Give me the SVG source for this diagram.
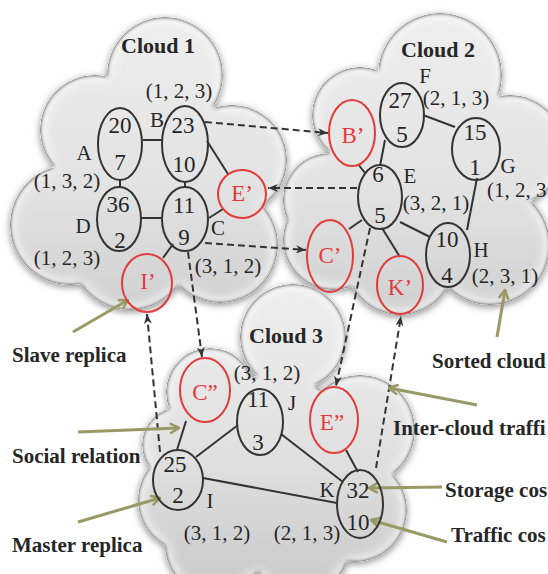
<svg xmlns="http://www.w3.org/2000/svg" width="548" height="574" viewBox="0 0 548 574">
<defs>
<filter id="cf" x="-15%" y="-15%" width="130%" height="130%">
<feGaussianBlur in="SourceAlpha" stdDeviation="7" result="bw"/>
<feComposite in="SourceAlpha" in2="bw" operator="arithmetic" k2="1.6" k3="-1.6" result="ew"/>
<feFlood flood-color="#ffffff"/>
<feComposite in2="ew" operator="in" result="white"/>
<feGaussianBlur in="SourceAlpha" stdDeviation="2" result="bn"/>
<feComposite in="SourceAlpha" in2="bn" operator="arithmetic" k2="2" k3="-2" result="en"/>
<feFlood flood-color="#6e6e6e"/>
<feComposite in2="en" operator="in" result="dark"/>
<feGaussianBlur in="SourceAlpha" stdDeviation="3.5" result="bo"/>
<feOffset in="bo" dy="2" result="bo2"/>
<feFlood flood-color="#8c8c8c"/>
<feComposite in2="bo2" operator="in" result="glow0"/>
<feComposite in="glow0" in2="SourceAlpha" operator="out" result="glow"/>
<feMerge><feMergeNode in="glow"/><feMergeNode in="SourceGraphic"/><feMergeNode in="white"/><feMergeNode in="dark"/></feMerge>
</filter>
<linearGradient id="g1" gradientUnits="userSpaceOnUse" x1="0" y1="15" x2="0" y2="310">
<stop offset="0" stop-color="#eeeeee"/><stop offset="0.6" stop-color="#e2e2e2"/><stop offset="1" stop-color="#d0d0d0"/>
</linearGradient>
<linearGradient id="g2" gradientUnits="userSpaceOnUse" x1="0" y1="15" x2="0" y2="315">
<stop offset="0" stop-color="#eeeeee"/><stop offset="0.6" stop-color="#e2e2e2"/><stop offset="1" stop-color="#d0d0d0"/>
</linearGradient>
<linearGradient id="g3" gradientUnits="userSpaceOnUse" x1="0" y1="285" x2="0" y2="574">
<stop offset="0" stop-color="#eeeeee"/><stop offset="0.6" stop-color="#e0e0e0"/><stop offset="1" stop-color="#cccccc"/>
</linearGradient>
<marker id="ah" viewBox="0 0 10 8" refX="10" refY="4" markerWidth="10" markerHeight="8" orient="auto" markerUnits="userSpaceOnUse">
<path d="M0,0 L10,4 L0,8 L3,4 z" fill="#333"/>
</marker>
<marker id="oh" viewBox="0 0 12 12" refX="11" refY="6" markerWidth="12" markerHeight="12" orient="auto" markerUnits="userSpaceOnUse">
<path d="M2,1 L11,6 L2,11" fill="none" stroke="#999966" stroke-width="2.5"/>
</marker>
</defs>
<style>
.t{font-family:"Liberation Serif","Times New Roman",serif;font-size:21px;fill:#262626;text-anchor:middle}
.n{font-size:23px}
.r{fill:#e23b3b;font-size:23px}
.b{font-family:"Liberation Serif","Times New Roman",serif;font-size:21px;font-weight:bold;fill:#262626}
.bc{font-size:22px;text-anchor:middle}
.nd{fill:none;stroke:#333;stroke-width:2}
.rd{fill:none;stroke:#e23b3b;stroke-width:2}
.e{stroke:#333;stroke-width:2;fill:none}
.d{stroke:#333;stroke-width:2;stroke-dasharray:7 4;fill:none;marker-end:url(#ah)}
.o{stroke:#999966;stroke-width:3;fill:none;marker-end:url(#oh)}
</style>
<rect width="548" height="574" fill="#ffffff"/>

<g id="cloud1" filter="url(#cf)" fill="url(#g1)">
<circle cx="165" cy="75" r="58"/>
<circle cx="95" cy="130" r="55"/>
<circle cx="70" cy="225" r="60"/>
<circle cx="130" cy="250" r="60"/>
<circle cx="220" cy="245" r="58"/>
<circle cx="232" cy="160" r="55"/>
<circle cx="160" cy="175" r="85"/>
</g>
<g id="cloud2" filter="url(#cf)" fill="url(#g2)">
<circle cx="440" cy="75" r="62"/>
<circle cx="360" cy="115" r="48"/>
<circle cx="510" cy="150" r="55"/>
<circle cx="330" cy="200" r="47"/>
<circle cx="333" cy="240" r="50"/>
<circle cx="400" cy="260" r="55"/>
<circle cx="490" cy="245" r="60"/>
<circle cx="430" cy="175" r="90"/>
</g>
<g id="cloud3" filter="url(#cf)" fill="url(#g3)">
<circle cx="210" cy="392" r="44"/>
<circle cx="293" cy="337" r="53"/>
<circle cx="360" cy="430" r="55"/>
<circle cx="355" cy="510" r="52"/>
<circle cx="190" cy="500" r="52"/>
<circle cx="180" cy="445" r="38"/>
<circle cx="272" cy="465" r="90"/>
<circle cx="215" cy="545" r="50"/>
<circle cx="300" cy="545" r="50"/>
</g>

<g id="cloud-labels">
<text class="b bc" x="158" y="53">Cloud 1</text>
<text class="b bc" x="438" y="57">Cloud 2</text>
<text class="b bc" x="286" y="343">Cloud 3</text>
</g>

<g id="connectors">
<line class="e" x1="143" y1="140" x2="162" y2="140"/>
<line class="e" x1="120" y1="180" x2="120" y2="187"/>
<line class="e" x1="141" y1="218" x2="162" y2="218"/>
<line class="e" x1="185" y1="182" x2="185" y2="187"/>
<line class="e" x1="207" y1="141" x2="228" y2="174"/>
<line class="e" x1="209" y1="218" x2="223" y2="209"/>
<line class="e" x1="173" y1="244" x2="163" y2="258"/>
<line class="e" x1="423" y1="115" x2="455" y2="127"/>
<line class="e" x1="385" y1="140" x2="380" y2="166"/>
<line class="e" x1="358" y1="164" x2="365" y2="173"/>
<line class="e" x1="477" y1="178" x2="467" y2="230"/>
<line class="e" x1="400" y1="222" x2="430" y2="237"/>
<line class="e" x1="362" y1="220" x2="349" y2="229"/>
<line class="e" x1="382" y1="228" x2="400" y2="257"/>
<line class="e" x1="177" y1="450" x2="186" y2="421"/>
<line class="e" x1="196" y1="457" x2="238" y2="425"/>
<line class="e" x1="203" y1="478" x2="337" y2="503"/>
<line class="e" x1="281" y1="434" x2="343" y2="482"/>
<line class="e" x1="346" y1="450" x2="358" y2="472"/>
<line class="d" x1="205" y1="122" x2="328" y2="133"/>
<line class="d" x1="357" y1="188" x2="268" y2="188"/>
<line class="d" x1="205" y1="243" x2="306" y2="250"/>
<line class="d" x1="188" y1="252" x2="202" y2="357"/>
<line class="d" x1="160" y1="452" x2="147" y2="314"/>
<line class="d" x1="370" y1="228" x2="336" y2="386"/>
<line class="d" x1="376" y1="468" x2="401" y2="316"/>
<line class="o" x1="73" y1="332" x2="128" y2="300"/>
<line class="o" x1="78" y1="432" x2="179" y2="428"/>
<line class="o" x1="78" y1="522" x2="160" y2="498"/>
<line class="o" x1="497" y1="337" x2="505" y2="290"/>
<line class="o" x1="477" y1="405" x2="389" y2="388"/>
<line class="o" x1="442" y1="487" x2="369" y2="488"/>
<line class="o" x1="447" y1="542" x2="371" y2="520"/>
</g>

<g id="node-A"><ellipse class="nd" cx="120" cy="144" rx="22" ry="36"/><text class="t n" x="120" y="133">20</text><text class="t n" x="120" y="170">7</text><text class="t" x="84" y="160">A</text><text class="t" x="67" y="188">(1, 3, 2)</text></g>
<g id="node-D"><ellipse class="nd" cx="119" cy="219" rx="22" ry="32"/><text class="t n" x="118" y="212">36</text><text class="t n" x="120" y="248">2</text><text class="t" x="83" y="233">D</text><text class="t" x="67" y="265">(1, 2, 3)</text></g>
<g id="node-B"><ellipse class="nd" cx="185" cy="144" rx="23" ry="38"/><text class="t n" x="183" y="133">23</text><text class="t n" x="184" y="172">10</text><text class="t" x="157" y="127">B</text><text class="t" x="179" y="98">(1, 2, 3)</text></g>
<g id="node-C"><ellipse class="nd" cx="185" cy="219" rx="23" ry="32"/><text class="t n" x="184" y="213">11</text><text class="t n" x="184" y="245">9</text><text class="t" x="218" y="235">C</text><text class="t" x="228" y="273">(3, 1, 2)</text></g>
<g id="node-E1"><ellipse class="rd" cx="242" cy="194" rx="24" ry="24"/><text class="t r" x="242" y="201">E’</text></g>
<g id="node-I1"><ellipse class="rd" cx="147" cy="283" rx="25" ry="29"/><text class="t r" x="148" y="289">I’</text></g>

<g id="node-F"><ellipse class="nd" cx="402" cy="115" rx="22" ry="32"/><text class="t n" x="400" y="108">27</text><text class="t n" x="402" y="142">5</text><text class="t" x="425" y="83">F</text><text class="t" x="456" y="105">(2, 1, 3)</text></g>
<g id="node-G"><ellipse class="nd" cx="476" cy="149" rx="24" ry="31"/><text class="t n" x="475" y="140">15</text><text class="t n" x="475" y="175">1</text><text class="t" x="508" y="173">G</text><text class="t" x="487" y="197" style="text-anchor:start">(1, 2, 3</text></g>
<g id="node-E"><ellipse class="nd" cx="380" cy="197" rx="22" ry="32"/><text class="t n" x="378" y="182">6</text><text class="t n" x="380" y="223">5</text><text class="t" x="410" y="183">E</text><text class="t" x="436" y="210">(3, 2, 1)</text></g>
<g id="node-H"><ellipse class="nd" cx="448" cy="255" rx="22" ry="32"/><text class="t n" x="447" y="247">10</text><text class="t n" x="447" y="283">4</text><text class="t" x="481" y="257">H</text><text class="t" x="505" y="283">(2, 3, 1)</text></g>
<g id="node-B2"><ellipse class="rd" cx="352" cy="133" rx="23" ry="33"/><text class="t r" x="353" y="143">B’</text></g>
<g id="node-C2"><ellipse class="rd" cx="330" cy="256" rx="23" ry="36"/><text class="t r" x="330" y="263">C’</text></g>
<g id="node-K2"><ellipse class="rd" cx="400" cy="285" rx="23" ry="29"/><text class="t r" x="400" y="295">K’</text></g>

<g id="node-C3"><ellipse class="rd" cx="205" cy="390" rx="25" ry="32"/><text class="t r" x="205" y="400">C”</text></g>
<g id="node-J"><ellipse class="nd" cx="260" cy="422" rx="23" ry="33"/><text class="t n" x="258" y="407">11</text><text class="t n" x="258" y="450">3</text><text class="t" x="292" y="410">J</text><text class="t" x="267" y="380">(3, 1, 2)</text></g>
<g id="node-I"><ellipse class="nd" cx="178" cy="480" rx="25" ry="30"/><text class="t n" x="175" y="472">25</text><text class="t n" x="178" y="503">2</text><text class="t" x="210" y="508">I</text><text class="t" x="217" y="540">(3, 1, 2)</text></g>
<g id="node-E3"><ellipse class="rd" cx="334" cy="420" rx="24" ry="33"/><text class="t r" x="332" y="430">E”</text></g>
<g id="node-K"><ellipse class="nd" cx="360" cy="504" rx="23" ry="34"/><text class="t n" x="358" y="498">32</text><text class="t n" x="358" y="530">10</text><text class="t" x="327" y="497">K</text><text class="t" x="307" y="540">(2, 1, 3)</text></g>

<g id="legend">
<text class="b" x="12" y="362">Slave replica</text>
<text class="b" x="12" y="463">Social relation</text>
<text class="b" x="12" y="552">Master replica</text>
<text class="b" x="432" y="368">Sorted cloud</text>
<text class="b" x="393" y="435">Inter-cloud traffi</text>
<text class="b" x="445" y="497">Storage cos</text>
<text class="b" x="451" y="542">Traffic cos</text>
</g>
</svg>
